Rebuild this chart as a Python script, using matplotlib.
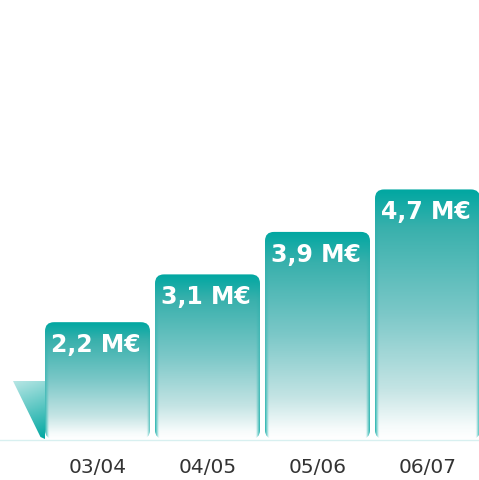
import numpy as np
import matplotlib
matplotlib.use("Agg")
import matplotlib.pyplot as plt
from matplotlib.patches import FancyBboxPatch, Polygon
from matplotlib.colors import to_rgb

categories = ["03/04", "04/05", "05/06", "06/07"]
values = [2.2, 3.1, 3.9, 4.7]
value_labels = ["2,2 M€", "3,1 M€", "3,9 M€", "4,7 M€"]

TEAL = np.array(to_rgb("#00a7a1"))
WHITE = np.array([1.0, 1.0, 1.0])

# gradient stops (fraction of bar height from bottom -> colour)
stop_pos = [0.0, 0.05, 0.2, 0.5, 0.85, 0.95, 1.0]
stop_col = [to_rgb(c) for c in ["#ffffff", "#f6fbfb", "#c4e4e4", "#7cc8c8",
                                "#38b0ac", "#12aaa5", "#00a7a1"]]

fig = plt.figure(figsize=(4.79, 4.81), dpi=100)
ax = fig.add_axes([0, 0, 1, 1])
px_x = 110.0   # pixels per category
px_y = 53.1    # pixels per unit
x0 = -97.5 / px_x
x1 = (479 - 97.5) / px_x
y0 = -41 / px_y
y1 = 440 / px_y
ax.set_xlim(x0, x1)
ax.set_ylim(y0, y1)
ax.axis("off")

width = 105 / px_x
r = 9 / px_x
aspect = (9 / px_y) / r

def bar_image(h_px=300, w_px=100):
    t = np.linspace(0, 1, h_px)
    s = np.linspace(0, 1, w_px)[None, :]
    col = np.stack([np.interp(t, stop_pos, [c[k] for c in stop_col]) for k in range(3)], axis=-1)
    img = np.repeat(col[:, None, :], w_px, axis=1)
    edge = np.maximum(np.clip(1 - s / 0.035, 0, 1), np.clip(1 - (1 - s) / 0.035, 0, 1))
    edge = (edge * (1 - t[:, None]) * 0.8)[..., None]
    img = img * (1 - edge) + TEAL * edge
    return img

# left decorative ribbon
tri = [(-84.5 / px_x, 58 / px_y), (-52.5 / px_x, 58 / px_y),
       (-52.5 / px_x, 0.0), (-57 / px_x, 2 / px_y)]
poly = Polygon(tri, closed=True, facecolor="none", edgecolor="none")
ax.add_patch(poly)
tt = np.linspace(0, 1, 100)[:, None]
ss = np.linspace(0, 1, 60)[None, :]
ff = np.clip(0.28 + 0.6 * (1 - tt) + 0.12 * ss, 0, 1) * np.ones_like(ss)
timg = WHITE[None, None, :] * (1 - ff[..., None]) + TEAL[None, None, :] * ff[..., None]
im = ax.imshow(timg, extent=(-84.5 / px_x, -52.5 / px_x, 0, 58 / px_y), origin="lower",
               aspect="auto", zorder=1)
im.set_clip_path(poly)

for i, (v, lab) in enumerate(zip(values, value_labels)):
    left = i - width / 2
    patch = FancyBboxPatch((left, 0), width, v,
                           boxstyle=f"round,pad=0,rounding_size={r}",
                           mutation_aspect=aspect,
                           facecolor="none", edgecolor="none", zorder=2)
    ax.add_patch(patch)
    im = ax.imshow(bar_image(), extent=(left, left + width, 0, v), origin="lower",
                   aspect="auto", zorder=2)
    im.set_clip_path(patch)
    ax.text(left + 6 / px_x, v - 22 / px_y, lab, color="white", fontsize=17,
            fontweight="bold", ha="left", va="center", zorder=3)
    ax.text(i, -28 / px_y, categories[i], color="#333333", fontsize=14.5,
            ha="center", va="center")

ax.plot([x0, x1], [-1 / px_y, -1 / px_y], color="#d8f0f0", lw=1, zorder=1)

fig.savefig("out.png", dpi=100)
